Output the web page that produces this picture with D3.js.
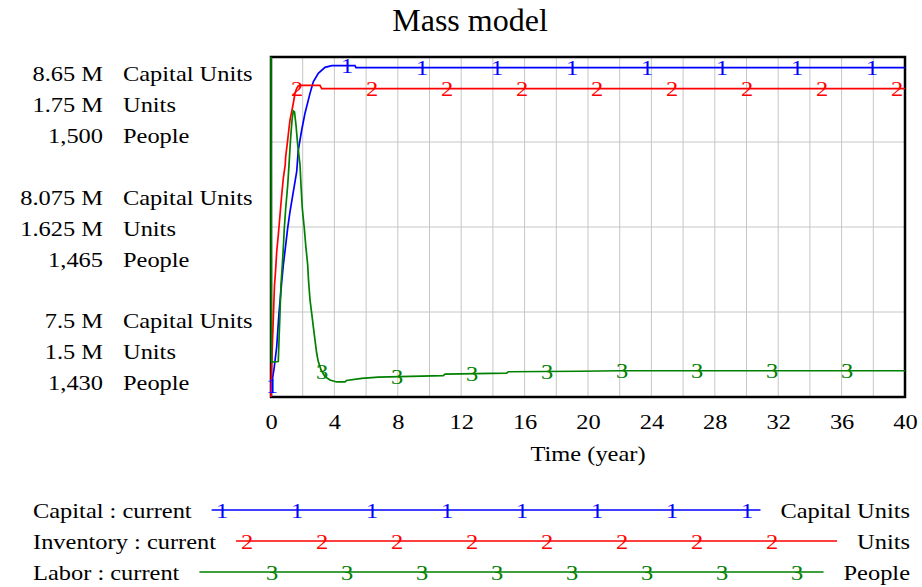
<!DOCTYPE html>
<html>
<head>
<meta charset="utf-8">
<script src="https://cdn.jsdelivr.net/npm/d3@7"></script>
<style>
  body { margin: 0; background: #fff; }
  text { font-family: "Liberation Serif", "Times New Roman", serif; }
</style>
</head>
<body>
<svg id="chart" width="922" height="587"></svg>
<script>
// Mass model - Vensim style time plot, three series on three scales

var title = "Mass model"
  , xLabel = "Time (year)"
  , xTicks = [0, 4, 8, 12, 16, 20, 24, 28, 32, 36, 40]
  ;

var seriesNames = ["Capital : current", "Inventory : current", "Labor : current"]
  , seriesUnits = ["Capital Units", "Units", "People"]
  , seriesMarks = ["1", "2", "3"]
  , seriesColors = ["#0000ff", "#ff0000", "#008000"]
  ;

// axis labels, top / middle / bottom
var capitalTicks = ["8.65 M", "8.075 M", "7.5 M"]
  , inventoryTicks = ["1.75 M", "1.625 M", "1.5 M"]
  , laborTicks = ["1,500", "1,465", "1,430"]
  , capitalRange = [7.5, 8.65]      // millions
  , inventoryRange = [1.5, 1.75]    // millions
  , laborRange = [1430, 1500]
  ;

// (years, millions)
var capitalTime = [0, 0.044, 0.082, 0.208, 0.36, 0.505, 0.675, 0.776, 0.927, 1.054, 1.199, 1.407, 1.621, 1.722,
                   1.937, 2.145, 2.461, 2.669, 2.984, 3.407, 3.83, 5.3, 5.36, 40]
  , capitalValues = [7.5, 7.524, 7.557, 7.602, 7.67, 7.784, 7.889, 7.946, 8.014, 8.072, 8.127, 8.194, 8.262, 8.335,
                     8.403, 8.46, 8.527, 8.566, 8.595, 8.615, 8.621, 8.621, 8.614, 8.614]
  ;

var inventoryTime = [0, 0.02, 0.044, 0.082, 0.158, 0.221, 0.284, 0.36, 0.461, 0.568, 0.675, 0.776, 0.896, 0.927,
                     1.054, 1.136, 1.199, 1.306, 1.407, 1.514, 1.621, 1.722, 1.83, 3.09, 3.2, 40]
  , inventoryValues = [1.5, 1.5125, 1.5223, 1.537, 1.5618, 1.5824, 1.592, 1.6068, 1.6191, 1.6338, 1.6485, 1.6608,
                       1.6706, 1.6767, 1.689, 1.6976, 1.7037, 1.7098, 1.716, 1.7233, 1.727, 1.7287, 1.7292, 1.7292,
                       1.7268, 1.7268]
  ;

var laborTime = [0, 0.03, 0.46, 0.505, 0.568, 0.63, 0.713, 0.776, 0.839, 0.927, 1.054, 1.136, 1.23, 1.325, 1.407,
                 1.483, 1.577, 1.685, 1.83, 1.893, 1.975, 2.101, 2.189, 2.315, 2.366, 2.461, 2.568, 2.669, 2.776,
                 2.883, 2.984, 3.155, 3.407, 3.722, 4.145, 4.669, 4.763, 5.722, 6.77, 10.87, 10.98, 14.87, 14.97,
                 19.5, 22, 40]
  , laborValues = [1500, 1437.2, 1437.3, 1441.7, 1447.3, 1453.1, 1457.2, 1460.6, 1464.7, 1468.8, 1473.6, 1477.8,
                   1482.9, 1487, 1488.9, 1488.7, 1486, 1481.9, 1477.8, 1473.6, 1468.8, 1464.7, 1461.3, 1457.2, 1454.1,
                   1450, 1447.2, 1444.5, 1441.7, 1439, 1437.3, 1435.6, 1434.2, 1433.5, 1433.1, 1433.1, 1433.4,
                   1433.85, 1434.1, 1434.4, 1434.7, 1434.9, 1435.2, 1435.3, 1435.4, 1435.4]
  ;

var plotLeft = 271, plotRight = 905, plotTop = 57, plotBottom = 397
  , fontSize = 22, stretch = 1.11
  , rowStep = 31
  ;

var svg = d3.select("#chart");

var x = d3.scaleLinear().domain([0, 40]).range([plotLeft, plotRight]);
var yCapital = d3.scaleLinear().domain(capitalRange).range([plotBottom, plotTop])
  , yInventory = d3.scaleLinear().domain(inventoryRange).range([plotBottom, plotTop])
  , yLabor = d3.scaleLinear().domain(laborRange).range([plotBottom, plotTop])
  , yFrac = d3.scaleLinear().domain([0, 4]).range([plotBottom, plotTop])
  ;

var series = [
  { time: capitalTime, values: capitalValues, y: yCapital, ticks: capitalTicks },
  { time: inventoryTime, values: inventoryValues, y: yInventory, ticks: inventoryTicks },
  { time: laborTime, values: laborValues, y: yLabor, ticks: laborTicks }
];

function addText (parent, px, py, str, anchor, color) {
  return parent.append("text")
               .attr("transform", "translate(" + px + "," + py + ") scale(" + stretch + ",1)")
               .attr("text-anchor", anchor || "start")
               .attr("dy", "0.35em")
               .attr("fill", color || "#000")
               .style("font-size", fontSize + "px")
               .text(str);
}

// Title
svg.append("text")
   .attr("x", 470)
   .attr("y", 31)
   .attr("text-anchor", "middle")
   .style("font-size", "32px")
   .text(title);

// Grid
var grid = svg.append("g");
d3.range(2, 40, 2).forEach(function (t) {
  grid.append("line")
      .attr("x1", x(t)).attr("x2", x(t))
      .attr("y1", plotTop).attr("y2", plotBottom)
      .attr("stroke", "#c6c6c6").attr("stroke-width", 1);
});
d3.range(1, 4).forEach(function (i) {
  grid.append("line")
      .attr("x1", plotLeft).attr("x2", plotRight)
      .attr("y1", yFrac(i)).attr("y2", yFrac(i))
      .attr("stroke", "#c6c6c6").attr("stroke-width", 1);
});

// Frame
svg.append("rect")
   .attr("x", plotLeft).attr("y", plotTop)
   .attr("width", plotRight - plotLeft).attr("height", plotBottom - plotTop)
   .attr("fill", "none").attr("stroke", "#000").attr("stroke-width", 2.5);

// X axis
var xAxis = d3.axisBottom(x).tickValues(xTicks).tickSize(0).tickPadding(0).tickFormat(d3.format("d"));
var gx = svg.append("g")
            .attr("transform", "translate(0,421)")
            .call(xAxis);
gx.select(".domain").remove();
gx.selectAll("text")
  .attr("y", 0)
  .attr("dy", "0.35em")
  .attr("fill", "#000")
  .attr("transform", "scale(" + stretch + ",1)")
  .style("font-size", fontSize + "px")
  .style("font-family", "'Liberation Serif', serif");

addText(svg, (plotLeft + plotRight) / 2, 453, xLabel, "middle");

// Left labels: three groups (top, middle, bottom), one row per series
var groupStart = [yFrac(4) + 16, yFrac(2) - rowStep + 1, yFrac(0) - 15 - 2 * rowStep];
groupStart.forEach(function (y0, g) {
  series.forEach(function (s, i) {
    addText(svg, 103, y0 + i * rowStep, s.ticks[g], "end");
    addText(svg, 123, y0 + i * rowStep, seriesUnits[i], "start");
  });
});

// Lines
var plot = svg.append("g");
series.forEach(function (s, i) {
  var pts = s.time.map(function (t, k) { return [t, s.values[k]]; });
  var line = d3.line()
               .x(function (d) { return x(d[0]); })
               .y(function (d) { return s.y(d[1]); });
  plot.append("path")
      .datum(pts)
      .attr("d", line)
      .attr("fill", "none")
      .attr("stroke", seriesColors[i])
      .attr("stroke-width", 1.7);
});

// Number marks along each line
series.forEach(function (s, i) {
  var interp = d3.scaleLinear().domain(s.time).range(s.values);
  for (var k = -5; k < 20; k += 1) {
    var px = 272 + 25 * i + 75 * k;
    if (px < plotLeft || px > plotRight) { continue; }
    var t = x.invert(px);
    addText(plot, px, s.y(interp(t)), seriesMarks[i], "middle", seriesColors[i]);
  }
});

// Legend
var legendY = [510, 541, 572];
series.forEach(function (s, i) {
  var y0 = legendY[i];
  var name = addText(svg, 33, y0, seriesNames[i], "start");
  var unit = addText(svg, 910, y0, seriesUnits[i], "end");
  var x1 = 33 + name.node().getComputedTextLength() * stretch + 20
    , x2 = 910 - unit.node().getComputedTextLength() * stretch - 20
    ;
  svg.append("line")
     .attr("x1", x1).attr("x2", x2)
     .attr("y1", y0).attr("y2", y0)
     .attr("stroke", seriesColors[i]).attr("stroke-width", 1.6);
  for (var k = -5; k < 20; k += 1) {
    var px = 222 + 25 * i + 75 * k;
    if (px < x1 + 3 || px > x2 - 3) { continue; }
    addText(svg, px, y0, seriesMarks[i], "middle", seriesColors[i]);
  }
});
</script>
</body>
</html>
